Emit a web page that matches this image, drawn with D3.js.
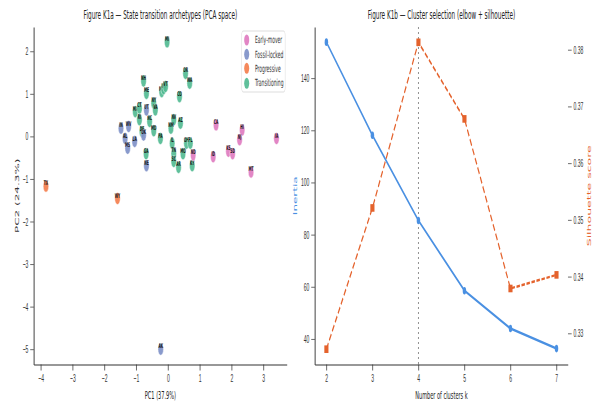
<!DOCTYPE html>
<html>
<head>
<meta charset="utf-8">
<script src="https://cdn.jsdelivr.net/npm/d3@7"></script>
<style>
  html, body { margin: 0; padding: 0; background: #fff; }
  svg { display: block; font-family: "DejaVu Sans", sans-serif; }
  .tick text { fill: #333; }
  .tick line, .domain { stroke: #333; }
</style>
</head>
<body>
<svg id="fig"></svg>
<script>
// ------------------------------------------------------
// DATA
// ------------------------------------------------------

// panel a: PCA scores per state
var stateCodes = ["MI","OR","WA","NH","MN","WI","VT","CO","ME","NY",
                  "MA","CT","NC","VA","RI","NV","AZ","NM","MD","DE",
                  "PA","IL","OH","FL","GA","TN","MO","SC","AR","KY",
                  "IN","WV","AL","MS","LA","OK","NE","UT","AK",
                  "CA","HI","NJ","IA","KS","SD","ID","MT","ND",
                  "TX","WY"];
var pc1 = [-0.03, 0.55, 0.68, -0.77, -0.20, -0.14, -0.08, 0.36, -0.68, -0.45,
           -1.03, -0.90, -0.58, -0.40, -0.90, 0.18, 0.39, 0.09, -0.45, -0.82,
           -0.24, 0.13, 0.58, 0.70, -0.69, 0.18, 0.47, 0.18, 0.33, 0.76,
           -1.48, -1.24, -1.35, -1.27, -1.05, -0.77, -0.68, -0.68, -0.23,
           1.51, 2.33, 2.25, 3.41, 1.90, 2.03, 1.42, 2.61, 0.79,
           -3.84, -1.59];
var pc2 = [2.22, 1.48, 1.25, 1.30, 1.05, 1.12, 1.17, 0.93, 1.01, 0.78,
           0.58, 0.66, 0.35, 0.62, 0.39, 0.39, 0.31, 0.19, 0.13, 0.11,
           -0.05, -0.16, -0.16, -0.16, -0.41, -0.40, -0.41, -0.59, -0.73, -0.69,
           0.19, 0.23, -0.05, -0.28, -0.12, 0.03, -0.69, 0.62, -5.00,
           0.27, 0.15, -0.08, -0.05, -0.35, -0.41, -0.48, -0.84, -0.44,
           -1.17, -1.46];
var archetype = [];
stateCodes.forEach(function (d, i) {
    if (i < 30) archetype.push("Transitioning");
    else if (i < 39) archetype.push("Fossil-locked");
    else if (i < 48) archetype.push("Early-mover");
    else archetype.push("Progressive");
});
var archetypeNames = ["Early-mover", "Fossil-locked", "Progressive", "Transitioning"];
var archetypeColors = ["#e07cc0", "#7f91c8", "#f47f4e", "#52bb92"];

// panel b: elbow + silhouette
var kValues = [2, 3, 4, 5, 6, 7];
var inertia = [153.8, 118.1, 85.4, 58.5, 44.0, 36.3];
var silhouette = [0.3272, 0.3521, 0.3813, 0.3678, 0.3379, 0.3403];

// ------------------------------------------------------
// SVG (drawn wide, then squeezed horizontally like the reference)
// ------------------------------------------------------
var W = 1300, H = 405;
var svg = d3.select("#fig")
    .attr("width", 595).attr("height", 405)
    .attr("viewBox", "0 0 " + W + " " + H)
    .attr("preserveAspectRatio", "none");

var minus = function (d) { return d < 0 ? "\u2212" + Math.abs(d) : "" + d; };
var plotTop = 27, plotBottom = 364.5;

// ------------------------------------------------------
// PANEL A
// ------------------------------------------------------
var xA = d3.scaleLinear().domain([-4.22, 3.74]).range([74, 627]);
var yA = d3.scaleLinear().domain([-5.36, 2.57]).range([plotBottom, plotTop]);
var color = d3.scaleOrdinal().domain(archetypeNames).range(archetypeColors);

var gA = svg.append("g");

gA.append("g")
    .attr("transform", "translate(0," + plotBottom + ")")
    .call(d3.axisBottom(xA).tickValues([-4, -3, -2, -1, 0, 1, 2, 3])
        .tickFormat(minus).tickSize(6).tickPadding(4).tickSizeOuter(0))
    .call(function (g) { g.selectAll("text").attr("font-size", 11); g.select(".domain").attr("stroke-width", 1.2); });

gA.append("g")
    .attr("transform", "translate(" + xA.range()[0] + ",0)")
    .call(d3.axisLeft(yA).tickValues([-5, -4, -3, -2, -1, 0, 1, 2])
        .tickFormat(minus).tickSize(8).tickPadding(4).tickSizeOuter(0))
    .call(function (g) { g.selectAll("text").attr("font-size", 11); g.select(".domain").attr("stroke-width", 2); });

var pts = gA.append("g").selectAll("g")
    .data(stateCodes)
    .join("g")
    .attr("transform", function (d, i) { return "translate(" + xA(pc1[i]) + "," + yA(pc2[i]) + ")"; });

pts.append("circle")
    .attr("r", 6)
    .attr("fill", function (d, i) { return color(archetype[i]); })
    .attr("fill-opacity", 0.92)
    .attr("stroke", "#fff")
    .attr("stroke-width", 0.6);

pts.append("text")
    .text(function (d) { return d; })
    .attr("y", -1)
    .attr("text-anchor", "middle")
    .attr("font-size", 6.5)
    .attr("font-weight", "bold")
    .attr("fill", "#1a1a1a");

gA.append("text")
    .attr("x", d3.mean(xA.range())).attr("y", 19)
    .attr("text-anchor", "middle").attr("font-size", 12.5).attr("fill", "#222")
    .text("Figure K1a \u2014 State transition archetypes (PCA space)");

gA.append("text")
    .attr("x", d3.mean(xA.range())).attr("y", 399)
    .attr("text-anchor", "middle").attr("font-size", 11).attr("fill", "#222")
    .text("PC1 (37.9%)");

gA.append("text")
    .attr("transform", "translate(38," + (plotTop + plotBottom) / 2 + ") rotate(-90)")
    .attr("text-anchor", "middle").attr("dominant-baseline", "central")
    .attr("font-size", 12).attr("fill", "#333")
    .text("PC2 (24.3%)");

// legend
var leg = gA.append("g");
leg.append("rect")
    .attr("x", 528).attr("y", 31).attr("width", 95).attr("height", 61)
    .attr("rx", 4).attr("fill", "#fff").attr("stroke", "#ddd").attr("stroke-width", 1.2);
var legRows = [40, 54.3, 68.3, 83.3];
archetypeNames.forEach(function (name, i) {
    leg.append("circle").attr("cx", 539).attr("cy", legRows[i]).attr("r", 5.5)
        .attr("fill", color(name)).attr("fill-opacity", 0.92);
    leg.append("text").attr("x", 557).attr("y", legRows[i])
        .attr("dominant-baseline", "central").attr("font-size", 9.8).attr("fill", "#333")
        .text(name);
});

// ------------------------------------------------------
// PANEL B
// ------------------------------------------------------
var xB = d3.scaleLinear().domain([1.75, 7.25]).range([688, 1241]);
var yB = d3.scaleLinear().domain([30.2, 159.6]).range([plotBottom, plotTop]);
var yS = d3.scaleLinear().domain([0.3245, 0.3840]).range([plotBottom, plotTop]);
var blue = "#4a90e2", orange = "#e4622c";

var gB = svg.append("g");

gB.append("g")
    .attr("transform", "translate(0," + plotBottom + ")")
    .call(d3.axisBottom(xB).tickValues(kValues).tickFormat(d3.format("d"))
        .tickSize(6).tickPadding(4).tickSizeOuter(0))
    .call(function (g) { g.selectAll("text").attr("font-size", 11); g.select(".domain").attr("stroke-width", 1.2); });

gB.append("g")
    .attr("transform", "translate(" + xB.range()[0] + ",0)")
    .call(d3.axisLeft(yB).tickValues([40, 60, 80, 100, 120, 140]).tickFormat(d3.format("d"))
        .tickSize(8).tickPadding(4).tickSizeOuter(0))
    .call(function (g) { g.selectAll("text").attr("font-size", 11); g.select(".domain").attr("stroke-width", 2); });

gB.append("g")
    .attr("transform", "translate(" + xB.range()[1] + ",0)")
    .call(d3.axisRight(yS).tickValues([0.33, 0.34, 0.35, 0.36, 0.37, 0.38])
        .tickFormat(d3.format(".2f")).tickSize(8).tickPadding(4).tickSizeOuter(0))
    .call(function (g) { g.selectAll("text").attr("font-size", 11); g.select(".domain").remove(); });

// chosen k
gB.append("line")
    .attr("x1", xB(4)).attr("x2", xB(4)).attr("y1", plotTop).attr("y2", plotBottom)
    .attr("stroke", "#888").attr("stroke-width", 2).attr("stroke-dasharray", "2,3");

var lineI = d3.line().x(function (d, i) { return xB(kValues[i]); }).y(function (d) { return yB(d); });
var lineS = d3.line().x(function (d, i) { return xB(kValues[i]); }).y(function (d) { return yS(d); });

gB.append("path").datum(silhouette).attr("d", lineS)
    .attr("fill", "none").attr("stroke", orange).attr("stroke-width", 2.4)
    .attr("stroke-dasharray", "7.5,3.5");
gB.append("g").selectAll("rect").data(silhouette).join("rect")
    .attr("x", function (d, i) { return xB(kValues[i]) - 4.5; })
    .attr("y", function (d) { return yS(d) - 3.8; })
    .attr("width", 9).attr("height", 7.6).attr("fill", orange);

gB.append("path").datum(inertia).attr("d", lineI)
    .attr("fill", "none").attr("stroke", blue).attr("stroke-width", 2.6);
gB.append("g").selectAll("circle").data(inertia).join("circle")
    .attr("cx", function (d, i) { return xB(kValues[i]); })
    .attr("cy", function (d) { return yB(d); })
    .attr("r", 3.8).attr("fill", blue);

gB.append("text")
    .attr("x", d3.mean(xB.range())).attr("y", 19)
    .attr("text-anchor", "middle").attr("font-size", 12.5).attr("fill", "#222")
    .text("Figure K1b \u2014 Cluster selection (elbow + silhouette)");

gB.append("text")
    .attr("x", d3.mean(xB.range())).attr("y", 399)
    .attr("text-anchor", "middle").attr("font-size", 11).attr("fill", "#222")
    .text("Number of clusters k");

gB.append("text")
    .attr("transform", "translate(645," + (plotTop + plotBottom) / 2 + ") rotate(-90)")
    .attr("text-anchor", "middle").attr("dominant-baseline", "central")
    .attr("font-size", 12).attr("fill", blue)
    .text("Inertia");

gB.append("text")
    .attr("transform", "translate(1286," + (plotTop + plotBottom) / 2 + ") rotate(-90)")
    .attr("text-anchor", "middle").attr("dominant-baseline", "central")
    .attr("font-size", 12.5).attr("fill", orange)
    .text("Silhouette score");
</script>
</body>
</html>
